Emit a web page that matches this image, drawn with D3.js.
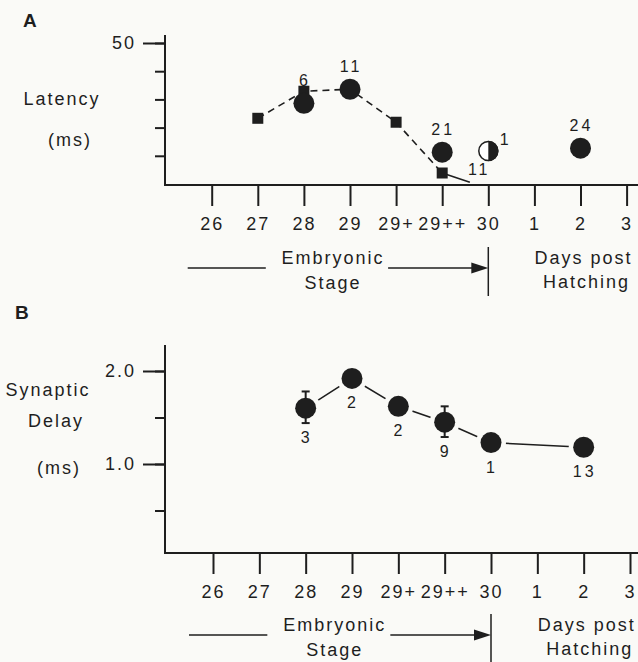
<!DOCTYPE html>
<meta charset="utf-8">
<head>
<script src="https://d3js.org/d3.v7.min.js"></script>
<style>
body { margin: 0; background: #fafaf7; }
svg { display: block; }
text { font-family: "Liberation Sans", Arial, sans-serif; fill: #1e1e1e; }
.axis path { display: none; }
.axis line { stroke: #1e1e1e; stroke-width: 2px; }
.axis text { font-size: 18px; letter-spacing: 2px; }
</style>
</head>
<body>
<svg></svg>
<script>

// x categories (embryonic stages, then days post hatching)
var stages = ["26", "27", "28", "29", "29+", "29++", "30", "1", "2", "3"];

// Panel A - latency (ms)
var latStage = ["28", "29", "29++", "2"];
var latMs    = [28.6, 33.6, 11.3, 12.7];
var latN     = ["6", "11", "21", "24"];

var halfStage = ["30"];
var halfMs    = [11.7];
var halfN     = ["1"];

var dashStage = ["27", "28", "29", "29+", "29++"];
var dashMs    = [23.3, 32.9, 33.6, 21.9, 3.9];

var sqStage = ["27", "28", "29+", "29++"];
var sqMs    = [23.3, 32.9, 21.9, 3.9];
var sqN     = ["", "", "", "11"];

// solid tail from the last square down to the axis (x in stage index units)
var tailPos = [5, 5.6];
var tailMs  = [3.9, 0.6];

var latTicks  = [10, 20, 30, 40, 50];
var latLabels = [50];

// Panel B - synaptic delay (ms)
var delayStage = ["28", "29", "29+", "29++", "30", "2"];
var delayMs    = [1.60, 1.92, 1.62, 1.45, 1.23, 1.18];
var delayLo    = [1.44, null, null, 1.29, null, null];
var delayHi    = [1.78, null, null, 1.62, null, null];
var delayN     = ["3", "2", "2", "9", "1", "13"];

var delayTicks  = [0.5, 1.0, 1.5, 2.0];
var delayLabels = [1.0, 2.0];

var ink = "#1e1e1e";
var bg = "#fafaf7";
var W = 638, H = 662;
var svg = d3.select("svg").attr("width", W).attr("height", H);

function idx(s) { return stages.indexOf(s); }

function panel(opt) {
    var g = svg.append("g");
    var x = d3.scaleLinear().domain([0, stages.length - 1]).range(opt.xr);
    var y = d3.scaleLinear().domain(opt.yd).range(opt.yr);

    // axes lines
    g.append("line").attr("x1", opt.x0).attr("x2", opt.x0)
        .attr("y1", opt.top).attr("y2", opt.bottom + 1)
        .style("stroke", ink).style("stroke-width", "2px");
    g.append("line").attr("x1", opt.x0).attr("x2", W)
        .attr("y1", opt.bottom).attr("y2", opt.bottom)
        .style("stroke", ink).style("stroke-width", "2px");

    // x ticks
    g.append("g").attr("class", "axis")
        .attr("transform", "translate(0," + opt.bottom + ")")
        .call(d3.axisBottom(x).tickValues(d3.range(stages.length))
            .tickSize(21).tickPadding(11)
            .tickFormat(function(i) { return stages[i]; }));

    // y minor ticks
    g.append("g").attr("class", "axis")
        .attr("transform", "translate(" + opt.x0 + ",0)")
        .call(d3.axisLeft(y).tickValues(opt.ticks).tickSize(10).tickFormat(""));
    // y major ticks with labels
    g.append("g").attr("class", "axis")
        .attr("transform", "translate(" + opt.x0 + ",0)")
        .call(d3.axisLeft(y).tickValues(opt.labels).tickSize(22).tickPadding(7)
            .tickFormat(opt.fmt));

    // panel letter
    g.append("text").attr("x", opt.letterX).attr("y", opt.letterY)
        .style("font-size", "19px").style("font-weight", "bold").text(opt.letter);

    // y title
    opt.ytitle.forEach(function(t) {
        g.append("text").attr("x", t[1]).attr("y", t[2])
            .attr("text-anchor", "middle").attr("dominant-baseline", "central")
            .style("font-size", "18px").style("letter-spacing", "2px").text(t[0]);
    });

    // embryonic stage arrow + hatching labels
    var ay = opt.arrowY;
    g.append("line").attr("x1", opt.xr[0] - 24).attr("x2", x(1) + 8)
        .attr("y1", ay).attr("y2", ay).style("stroke", ink).style("stroke-width", "1.5px");
    g.append("line").attr("x1", x(4) - 8).attr("x2", x(6) - 14)
        .attr("y1", ay).attr("y2", ay).style("stroke", ink).style("stroke-width", "1.5px");
    g.append("path")
        .attr("d", "M" + (x(6) - 17) + "," + (ay - 5.5) + "L" + x(6) + "," + ay + "L" + (x(6) - 17) + "," + (ay + 5.5) + "Z")
        .style("fill", ink);
    g.append("line").attr("x1", x(6)).attr("x2", x(6))
        .attr("y1", ay - 21).attr("y2", ay + 28).style("stroke", ink).style("stroke-width", "1.5px");
    var mid = (x(2) + x(3)) / 2 + 6;
    g.append("text").attr("x", mid).attr("y", ay - 10).attr("text-anchor", "middle")
        .attr("dominant-baseline", "central").style("font-size", "18px")
        .style("letter-spacing", "2px").text("Embryonic");
    g.append("text").attr("x", mid).attr("y", ay + 15).attr("text-anchor", "middle")
        .attr("dominant-baseline", "central").style("font-size", "18px")
        .style("letter-spacing", "2px").text("Stage");
    g.append("text").attr("x", x(8) + 3).attr("y", ay - 10).attr("text-anchor", "middle")
        .attr("dominant-baseline", "central").style("font-size", "18px")
        .style("letter-spacing", "2px").text("Days post");
    g.append("text").attr("x", x(8) + 6).attr("y", ay + 14).attr("text-anchor", "middle")
        .attr("dominant-baseline", "central").style("font-size", "18px")
        .style("letter-spacing", "2px").text("Hatching");

    return { g: g, x: x, y: y };
}

// ---------- Panel A ----------
var A = panel({
    xr: [211.7, 626.6], yd: [0, 50], yr: [184, 43],
    x0: 165, top: 35, bottom: 185,
    ticks: latTicks, labels: latLabels, fmt: d3.format("d"),
    letter: "A", letterX: 23, letterY: 27,
    ytitle: [["Latency", 62, 99], ["(ms)", 70, 140]],
    arrowY: 268
});

var dashLine = d3.line()
    .x(function(d) { return A.x(idx(d[0])); })
    .y(function(d) { return A.y(d[1]); });
A.g.append("path")
    .datum(d3.zip(dashStage, dashMs))
    .attr("d", dashLine)
    .style("fill", "none").style("stroke", ink)
    .style("stroke-width", "1.6px").style("stroke-dasharray", "7,5");

A.g.append("path")
    .datum(d3.zip(tailPos, tailMs))
    .attr("d", d3.line().x(function(d) { return A.x(d[0]); }).y(function(d) { return A.y(d[1]); }))
    .style("fill", "none").style("stroke", ink).style("stroke-width", "1.6px");

var sq = 11;
A.g.selectAll("rect.sq").data(d3.zip(sqStage, sqMs, sqN)).enter().append("rect")
    .attr("class", "sq")
    .attr("x", function(d) { return A.x(idx(d[0])) - sq / 2; })
    .attr("y", function(d) { return A.y(d[1]) - sq / 2; })
    .attr("width", sq).attr("height", sq).style("fill", ink);

A.g.selectAll("circle.lat").data(d3.zip(latStage, latMs)).enter().append("circle")
    .attr("class", "lat")
    .attr("cx", function(d) { return A.x(idx(d[0])); })
    .attr("cy", function(d) { return A.y(d[1]); })
    .attr("r", 10.5).style("fill", ink);

A.g.selectAll("text.latn").data(d3.zip(latStage, latMs, latN)).enter().append("text")
    .attr("class", "latn")
    .attr("x", function(d) { return A.x(idx(d[0])) + 1; })
    .attr("y", function(d) { return A.y(d[1]) - 23; })
    .attr("text-anchor", "middle").attr("dominant-baseline", "central")
    .style("font-size", "16px").style("letter-spacing", "3px")
    .text(function(d) { return d[2]; });

A.g.selectAll("text.sqn").data(d3.zip(sqStage, sqMs, sqN)).enter().append("text")
    .attr("class", "sqn")
    .attr("x", function(d) { return A.x(idx(d[0])) + 37; })
    .attr("y", function(d) { return A.y(d[1]) - 4; })
    .attr("text-anchor", "middle").attr("dominant-baseline", "central")
    .style("font-size", "16px").style("letter-spacing", "3px")
    .text(function(d) { return d[2]; });

// half filled circle
var half = A.g.selectAll("g.half").data(d3.zip(halfStage, halfMs, halfN)).enter().append("g")
    .attr("class", "half")
    .attr("transform", function(d) { return "translate(" + A.x(idx(d[0])) + "," + A.y(d[1]) + ")"; });
half.append("circle").attr("r", 9.5).style("fill", "#fff").style("stroke", ink).style("stroke-width", "1.5px");
half.append("path")
    .attr("d", d3.arc().innerRadius(0).outerRadius(10.2).startAngle(0).endAngle(Math.PI)())
    .style("fill", ink);
half.append("text").attr("x", 16).attr("y", -12)
    .attr("text-anchor", "middle").attr("dominant-baseline", "central")
    .style("font-size", "16px").text(function(d) { return d[2]; });

// ---------- Panel B ----------
var B = panel({
    xr: [213, 630], yd: [0, 2], yr: [557, 371],
    x0: 165, top: 345, bottom: 553,
    ticks: delayTicks, labels: delayLabels, fmt: d3.format(".1f"),
    letter: "B", letterX: 15, letterY: 319,
    ytitle: [["Synaptic", 48, 390], ["Delay", 56, 421], ["(ms)", 59, 468]],
    arrowY: 635
});

var bData = delayStage.map(function(s, i) {
    return { s: s, v: delayMs[i], lo: delayLo[i], hi: delayHi[i], n: delayN[i] };
});

B.g.append("path")
    .datum(bData)
    .attr("d", d3.line().x(function(d) { return B.x(idx(d.s)); }).y(function(d) { return B.y(d.v); }))
    .style("fill", "none").style("stroke", ink).style("stroke-width", "1.6px");

B.g.selectAll("circle.halo").data(bData).enter().append("circle")
    .attr("cx", function(d) { return B.x(idx(d.s)); })
    .attr("cy", function(d) { return B.y(d.v); })
    .attr("r", 15).style("fill", bg);

var eb = B.g.selectAll("g.err").data(bData.filter(function(d) { return d.lo != null; }))
    .enter().append("g");
eb.append("line")
    .attr("x1", function(d) { return B.x(idx(d.s)); }).attr("x2", function(d) { return B.x(idx(d.s)); })
    .attr("y1", function(d) { return B.y(d.hi); }).attr("y2", function(d) { return B.y(d.lo); })
    .style("stroke", ink).style("stroke-width", "2px");
["hi", "lo"].forEach(function(k) {
    eb.append("line")
        .attr("x1", function(d) { return B.x(idx(d.s)) - 4; })
        .attr("x2", function(d) { return B.x(idx(d.s)) + 4; })
        .attr("y1", function(d) { return B.y(d[k]); })
        .attr("y2", function(d) { return B.y(d[k]); })
        .style("stroke", ink).style("stroke-width", "2px");
});

B.g.selectAll("circle.dot").data(bData).enter().append("circle")
    .attr("cx", function(d) { return B.x(idx(d.s)); })
    .attr("cy", function(d) { return B.y(d.v); })
    .attr("r", 10.5).style("fill", ink);

B.g.selectAll("text.n").data(bData).enter().append("text")
    .attr("x", function(d) { return B.x(idx(d.s)) + 1; })
    .attr("y", function(d) {
        var bottom = Math.max(B.y(d.v) + 10.5, d.lo != null ? B.y(d.lo) : 0);
        return bottom + 14;
    })
    .attr("text-anchor", "middle").attr("dominant-baseline", "central")
    .style("font-size", "16px").style("letter-spacing", "3px")
    .text(function(d) { return d.n; });

</script>
</body>
</html>
